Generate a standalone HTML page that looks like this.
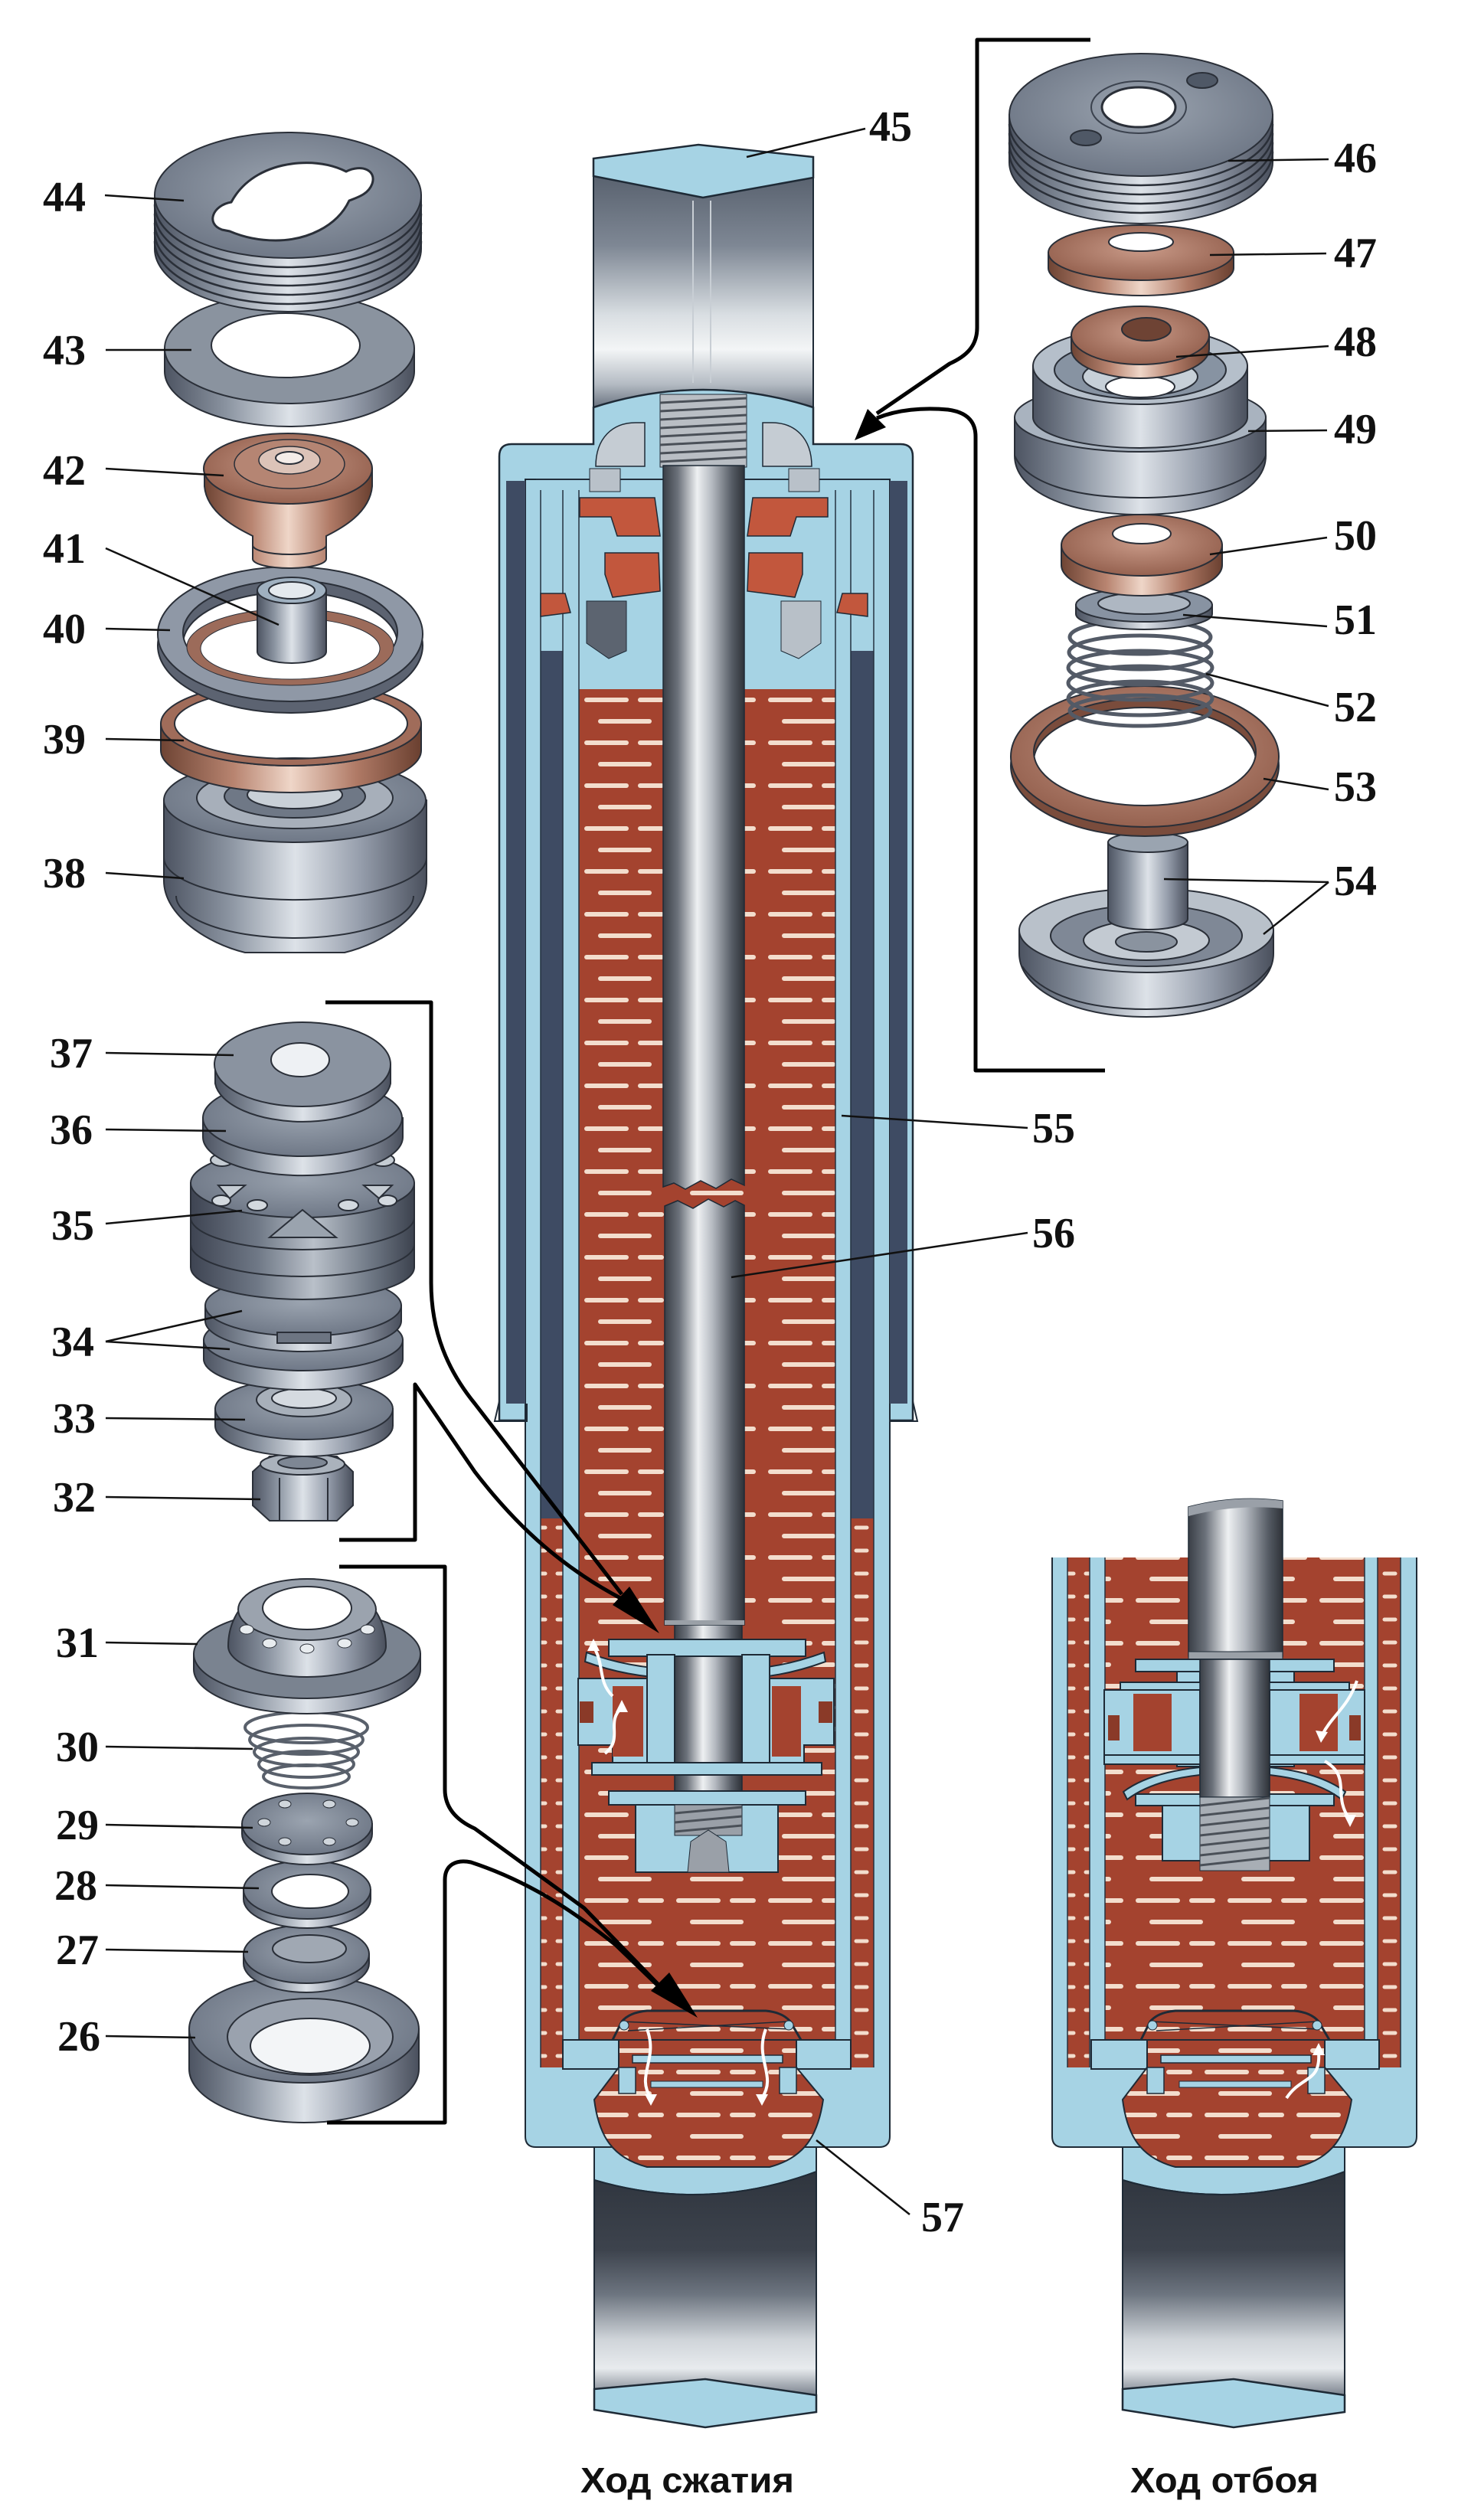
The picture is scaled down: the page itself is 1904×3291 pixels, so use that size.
<!DOCTYPE html>
<html><head><meta charset="utf-8"><style>
html,body{margin:0;padding:0;background:#fff;}
svg{display:block;}
.n{font-family:"Liberation Serif",serif;font-weight:bold;font-size:56px;fill:#111;}
.cap{font-family:"Liberation Sans",sans-serif;font-weight:bold;font-size:46px;fill:#111;}
</style></head><body>
<svg width="1904" height="3291" viewBox="0 0 1904 3291" xmlns="http://www.w3.org/2000/svg">
<defs>
<linearGradient id="rod" x1="0" x2="1" y1="0" y2="0">
<stop offset="0" stop-color="#3a3f47"/><stop offset=".18" stop-color="#6b717a"/><stop offset=".42" stop-color="#eef0f2"/><stop offset=".6" stop-color="#b5bac1"/><stop offset=".85" stop-color="#555b64"/><stop offset="1" stop-color="#2e3238"/>
</linearGradient>
<linearGradient id="eyeT" x1="0" x2="0" y1="0" y2="1">
<stop offset="0" stop-color="#59626f"/><stop offset=".3" stop-color="#7e8794"/><stop offset=".6" stop-color="#d9dee2"/><stop offset=".75" stop-color="#f3f5f6"/><stop offset=".9" stop-color="#b4bbc3"/><stop offset="1" stop-color="#6a7380"/>
</linearGradient>
<linearGradient id="eyeB" x1="0" x2="0" y1="0" y2="1">
<stop offset="0" stop-color="#2f353e"/><stop offset=".35" stop-color="#3d434d"/><stop offset=".55" stop-color="#6d7580"/><stop offset=".75" stop-color="#cfd4d9"/><stop offset=".88" stop-color="#e8ebee"/><stop offset="1" stop-color="#7b838e"/>
</linearGradient>
<linearGradient id="ms" x1="0" x2="1" y1="0" y2="0">
<stop offset="0" stop-color="#4d5462"/><stop offset=".25" stop-color="#8b94a1"/><stop offset=".5" stop-color="#dde2e8"/><stop offset=".75" stop-color="#959dab"/><stop offset="1" stop-color="#4a505d"/>
</linearGradient>
<linearGradient id="ms2" x1="0" x2="1" y1="0" y2="0">
<stop offset="0" stop-color="#3e4452"/><stop offset=".3" stop-color="#6f7886"/><stop offset=".55" stop-color="#b9c0c9"/><stop offset=".8" stop-color="#707986"/><stop offset="1" stop-color="#3c424e"/>
</linearGradient>
<linearGradient id="cs" x1="0" x2="1" y1="0" y2="0">
<stop offset="0" stop-color="#6e4434"/><stop offset=".28" stop-color="#b88470"/><stop offset=".5" stop-color="#efd6c8"/><stop offset=".75" stop-color="#b07a66"/><stop offset="1" stop-color="#6a4030"/>
</linearGradient>
<radialGradient id="tf" cx=".5" cy=".45" r=".6"><stop offset="0" stop-color="#9ba4b0"/><stop offset="1" stop-color="#6b7483"/></radialGradient>
<radialGradient id="ct" cx=".5" cy=".45" r=".6"><stop offset="0" stop-color="#c99a88"/><stop offset="1" stop-color="#915d4b"/></radialGradient>
<pattern id="oil" width="120" height="56" patternUnits="userSpaceOnUse" x="756" y="900">
<rect width="120" height="56" fill="#a4432f"/>
<g stroke="#f3ddcd" stroke-width="6" stroke-linecap="round">
<line x1="10" y1="14" x2="62" y2="14"/><line x1="80" y1="14" x2="108" y2="14"/><line x1="28" y1="42" x2="92" y2="42"/>
</g></pattern>
<pattern id="oil2" width="30" height="30" patternUnits="userSpaceOnUse">
<rect width="30" height="30" fill="#a4432f"/>
<line x1="8" y1="15" x2="22" y2="15" stroke="#f3ddcd" stroke-width="5" stroke-linecap="round"/>
</pattern>
<g id="bot">
<path d="M776,2804 V2847 Q921,2890 1066,2836 V2804 Z" fill="#a6d3e4" stroke="#1e2a36" stroke-width="2"/>
<path d="M776,2847 Q921,2890 1066,2836 V3128 L921,3107 L776,3120 Z" fill="url(#eyeB)" stroke="#1e2a36" stroke-width="2"/>
<path d="M776,3120 L921,3107 L1066,3128 V3150 L921,3170 L776,3147 Z" fill="#a6d3e4" stroke="#1e2a36" stroke-width="2.5"/>
<rect x="735" y="2664" width="73" height="38" fill="#a6d3e4" stroke="#1e2a36" stroke-width="2"/>
<rect x="1040" y="2664" width="71" height="38" fill="#a6d3e4" stroke="#1e2a36" stroke-width="2"/>
<path d="M808,2664 H1040 V2700 L1075,2742 C1068,2790 1050,2818 1005,2830 H845 C800,2818 782,2790 776,2742 L808,2700 Z" fill="url(#oil)" stroke="#1e2a36" stroke-width="2"/>
<path d="M800,2664 L812,2640 Q822,2628 845,2626 H1000 Q1022,2628 1032,2640 L1046,2664" fill="none" stroke="#1e2a36" stroke-width="3"/>
<path d="M812,2640 L1032,2650 M820,2652 L1030,2640" stroke="#1e2a36" stroke-width="1.5"/>
<rect x="826" y="2684" width="196" height="10" fill="#a6d3e4" stroke="#1e2a36" stroke-width="1.5"/>
<rect x="808" y="2700" width="22" height="34" fill="#a6d3e4" stroke="#1e2a36" stroke-width="1.5"/>
<rect x="1018" y="2700" width="22" height="34" fill="#a6d3e4" stroke="#1e2a36" stroke-width="1.5"/>
<rect x="850" y="2718" width="146" height="8" fill="#a6d3e4" stroke="#1e2a36" stroke-width="1"/>
<circle cx="815" cy="2645" r="6" fill="#a6d3e4" stroke="#1e2a36"/>
<circle cx="1030" cy="2645" r="6" fill="#a6d3e4" stroke="#1e2a36"/>
</g>
</defs>
<rect width="1904" height="3291" fill="#fff"/>

<!-- ================= CENTER ================= -->
<path d="M775,230 L918,258 L1062,232 L1062,532 Q918,486 775,532 Z" fill="url(#eyeT)" stroke="#1e2a36" stroke-width="2"/>
<line x1="905" y1="262" x2="905" y2="500" stroke="#c8ced4" stroke-width="2"/>
<line x1="928" y1="262" x2="928" y2="500" stroke="#c8ced4" stroke-width="2"/>
<path d="M775,207 L912,189 L1062,205 L1062,232 L918,258 L775,230 Z" fill="#a6d3e4" stroke="#1e2a36" stroke-width="2.5"/>
<path d="M652,1855 V596 Q652,580 668,580 H775 V532 Q918,486 1062,532 V580 H1176 Q1192,580 1192,596 V1855 Z" fill="#a6d3e4" stroke="#1e2a36" stroke-width="2.5"/>
<path d="M686,626 H1162 V2790 Q1162,2804 1148,2804 H700 Q686,2804 686,2790 Z" fill="#a6d3e4" stroke="#1e2a36" stroke-width="2"/>
<rect x="661" y="628" width="25" height="1205" fill="#3e4b63"/>
<rect x="1162" y="628" width="23" height="1205" fill="#3e4b63"/>
<path d="M652,1830 L646,1856 H688 V1833" fill="none" stroke="#1e2a36" stroke-width="2"/>
<path d="M1192,1830 L1198,1856 H1162" fill="none" stroke="#1e2a36" stroke-width="2"/>
<rect x="706" y="850" width="29" height="1133" fill="#3e4b63"/>
<rect x="1111" y="850" width="30" height="1133" fill="#3e4b63"/>
<rect x="706" y="1983" width="29" height="717" fill="url(#oil2)"/>
<rect x="1111" y="1983" width="30" height="717" fill="url(#oil2)"/>
<rect x="756" y="900" width="335" height="1802" fill="url(#oil)"/>
<g stroke="#24313e" stroke-width="1.5">
<line x1="706" y1="640" x2="706" y2="2700"/><line x1="735" y1="640" x2="735" y2="2700"/>
<line x1="756" y1="640" x2="756" y2="2702"/><line x1="1091" y1="640" x2="1091" y2="2702"/>
<line x1="1111" y1="640" x2="1111" y2="2700"/><line x1="1141" y1="640" x2="1141" y2="2700"/>
<line x1="700" y1="626" x2="1150" y2="626"/>
</g>
<g fill="#c2573d" stroke="#1e2a36" stroke-width="1.5">
<polygon points="757,650 855,650 862,700 806,700 798,675 757,675"/>
<polygon points="790,722 860,722 862,772 800,780 790,750"/>
<polygon points="706,775 738,775 745,800 706,805"/>
<polygon points="1081,650 983,650 976,700 1032,700 1040,675 1081,675"/>
<polygon points="1048,722 978,722 976,772 1038,780 1048,750"/>
<polygon points="1133,775 1100,775 1093,800 1133,805"/>
</g>
<polygon points="766,785 818,785 818,850 795,860 766,840" fill="#5c6470" stroke="#1e2a36"/>
<polygon points="1020,785 1072,785 1072,840 1043,860 1020,850" fill="#b8c0c8" stroke="#1e2a36"/>
<path d="M778,609 C778,572 800,552 830,552 H842 V609 Z" fill="#c5ccd3" stroke="#1e2a36" stroke-width="1.5"/>
<path d="M1060,609 C1060,572 1038,552 1008,552 H996 V609 Z" fill="#c5ccd3" stroke="#1e2a36" stroke-width="1.5"/>
<rect x="770" y="612" width="40" height="30" fill="#b9c1c9" stroke="#1e2a36"/>
<rect x="1030" y="612" width="40" height="30" fill="#b9c1c9" stroke="#1e2a36"/>
<rect x="862" y="515" width="113" height="95" fill="#b9bec4" stroke="#1e2a36"/>
<g stroke="#4a5058" stroke-width="3">
<line x1="862" y1="526" x2="975" y2="520"/><line x1="862" y1="537" x2="975" y2="531"/><line x1="862" y1="548" x2="975" y2="542"/><line x1="862" y1="559" x2="975" y2="553"/><line x1="862" y1="570" x2="975" y2="564"/><line x1="862" y1="581" x2="975" y2="575"/><line x1="862" y1="592" x2="975" y2="586"/><line x1="862" y1="603" x2="975" y2="597"/>
</g>
<path d="M866,608 H972 V1548 L955,1540 L935,1552 L915,1542 L895,1553 L880,1545 L866,1550 Z" fill="url(#rod)" stroke="#1e2a36" stroke-width="1.5"/>
<path d="M868,1575 L885,1568 L905,1578 L925,1566 L945,1576 L960,1568 L972,1574 V2122 H868 Z" fill="url(#rod)" stroke="#1e2a36" stroke-width="1.5"/>
<rect x="881" y="2122" width="88" height="240" fill="url(#rod)" stroke="#1e2a36" stroke-width="1.5"/>
<rect x="868" y="2116" width="104" height="6" fill="#9aa0a7"/>
<g fill="#a6d3e4" stroke="#1e2a36" stroke-width="2">
<rect x="795" y="2141" width="257" height="22"/>
<path d="M766,2158 Q820,2178 881,2180 V2192 Q818,2190 764,2170 Z"/>
<path d="M1076,2158 Q1022,2178 969,2180 V2192 Q1024,2190 1078,2170 Z"/>
<path d="M755,2192 H860 V2304 H800 V2279 H755 Z"/>
<path d="M1089,2192 H985 V2304 H1050 V2279 H1089 Z"/>
<rect x="845" y="2161" width="36" height="143"/>
<rect x="969" y="2161" width="36" height="143"/>
<rect x="773" y="2302" width="300" height="16"/>
<rect x="795" y="2339" width="257" height="18"/>
<rect x="830" y="2357" width="186" height="88"/>
</g>
<rect x="800" y="2202" width="40" height="92" fill="#a4432f"/>
<rect x="1008" y="2202" width="38" height="92" fill="#a4432f"/>
<rect x="757" y="2222" width="18" height="28" fill="#8a3a28"/>
<rect x="1069" y="2222" width="18" height="28" fill="#8a3a28"/>
<rect x="881" y="2357" width="88" height="40" fill="#9aa0a8" stroke="#1e2a36"/>
<g stroke="#4a5058" stroke-width="3"><line x1="881" y1="2368" x2="969" y2="2360"/><line x1="881" y1="2380" x2="969" y2="2372"/><line x1="881" y1="2392" x2="969" y2="2384"/></g>
<polygon points="898,2445 902,2405 925,2390 948,2405 952,2445" fill="#9aa0a8" stroke="#1e2a36"/>
<g fill="none" stroke="#fff" stroke-width="4">
<path d="M790,2290 C815,2270 790,2250 812,2230"/>
<path d="M800,2215 C780,2195 790,2175 775,2150"/>
</g>
<polygon points="812,2220 804,2236 820,2236" fill="#fff"/>
<polygon points="775,2140 767,2156 783,2156" fill="#fff"/>
<use href="#bot"/>
<g fill="none" stroke="#fff" stroke-width="4">
<path d="M845,2650 C860,2690 830,2710 850,2740"/>
<path d="M1000,2650 C985,2690 1015,2710 995,2740"/>
</g>
<polygon points="850,2750 842,2735 858,2735" fill="#fff"/>
<polygon points="995,2750 987,2735 1003,2735" fill="#fff"/>

<!-- ================= RIGHT PANEL ================= -->
<path d="M1374,2034 V2790 Q1374,2804 1388,2804 H1836 Q1850,2804 1850,2790 V2034 Z" fill="#a6d3e4"/>
<path d="M1374,2034 V2790 Q1374,2804 1388,2804 H1836 Q1850,2804 1850,2790 V2034" fill="none" stroke="#1e2a36" stroke-width="2"/>
<rect x="1394" y="2034" width="29" height="666" fill="url(#oil2)"/>
<rect x="1799" y="2034" width="30" height="666" fill="url(#oil2)"/>
<rect x="1443" y="2034" width="339" height="668" fill="url(#oil)"/>
<g stroke="#24313e" stroke-width="1.5">
<line x1="1394" y1="2034" x2="1394" y2="2700"/><line x1="1423" y1="2034" x2="1423" y2="2700"/>
<line x1="1443" y1="2034" x2="1443" y2="2702"/><line x1="1782" y1="2034" x2="1782" y2="2702"/>
<line x1="1799" y1="2034" x2="1799" y2="2700"/><line x1="1829" y1="2034" x2="1829" y2="2700"/>
</g>
<use href="#bot" transform="translate(690,0)"/>
<!-- right piston -->
<path d="M1552,1968 Q1612,1952 1675,1960 V2163 H1552 Z" fill="url(#rod)" stroke="#1e2a36" stroke-width="1.5"/>
<path d="M1552,1968 Q1612,1952 1675,1960 L1675,1970 Q1612,1964 1552,1980 Z" fill="#9aa0a8"/>
<rect x="1552" y="2157" width="123" height="10" fill="#9aa0a7" stroke="#1e2a36" stroke-width="1"/>
<g fill="#a6d3e4" stroke="#1e2a36" stroke-width="2">
<rect x="1483" y="2167" width="259" height="16"/>
<rect x="1537" y="2183" width="30" height="124"/>
<rect x="1658" y="2183" width="32" height="124"/>
<rect x="1463" y="2197" width="299" height="10"/>
<rect x="1442" y="2207" width="125" height="85"/>
<rect x="1658" y="2207" width="124" height="85"/>
<rect x="1442" y="2292" width="340" height="12"/>
<path d="M1467,2340 Q1500,2315 1567,2308 V2318 Q1505,2325 1472,2350 Z"/>
<path d="M1757,2340 Q1724,2315 1658,2308 V2318 Q1720,2325 1752,2350 Z"/>
<rect x="1483" y="2343" width="259" height="15"/>
<rect x="1518" y="2358" width="192" height="72"/>
</g>
<rect x="1480" y="2212" width="50" height="75" fill="#a4432f"/>
<rect x="1697" y="2212" width="50" height="75" fill="#a4432f"/>
<rect x="1447" y="2240" width="15" height="33" fill="#8a3a28"/>
<rect x="1762" y="2240" width="15" height="33" fill="#8a3a28"/>
<rect x="1567" y="2167" width="91" height="180" fill="url(#rod)" stroke="#1e2a36" stroke-width="1.5"/>
<rect x="1567" y="2347" width="91" height="96" fill="#a8aeb5" stroke="#1e2a36"/>
<g stroke="#4a5058" stroke-width="3">
<line x1="1567" y1="2358" x2="1658" y2="2348"/><line x1="1567" y1="2371" x2="1658" y2="2361"/><line x1="1567" y1="2384" x2="1658" y2="2374"/><line x1="1567" y1="2397" x2="1658" y2="2387"/><line x1="1567" y1="2410" x2="1658" y2="2400"/><line x1="1567" y1="2423" x2="1658" y2="2413"/><line x1="1567" y1="2436" x2="1658" y2="2426"/>
</g>
<g fill="none" stroke="#fff" stroke-width="4">
<path d="M1772,2195 C1760,2230 1740,2240 1727,2265"/>
<path d="M1730,2300 C1765,2320 1740,2345 1762,2375"/>
<path d="M1680,2740 C1700,2710 1725,2720 1722,2680"/>
</g>
<polygon points="1725,2276 1718,2260 1734,2262" fill="#fff"/>
<polygon points="1763,2386 1755,2370 1771,2370" fill="#fff"/>
<polygon points="1722,2668 1714,2684 1730,2684" fill="#fff"/>

<!-- ================= LEFT TOP GROUP ================= -->
<g stroke="#2a2f38" stroke-width="2">
<path d="M214,1045 V1150 C214,1195 270,1232 320,1244 H450 C500,1232 557,1195 557,1150 V1045 Z" fill="url(#ms)"/>
<path d="M214,1120 A171,55 0 0 0 557,1120" fill="none"/>
<path d="M230,1170 A155,55 0 0 0 540,1170" fill="none"/>
<ellipse cx="385" cy="1045" rx="171" ry="55" fill="url(#tf)"/>
<ellipse cx="385" cy="1042" rx="128" ry="40" fill="#a7afba"/>
<ellipse cx="385" cy="1040" rx="92" ry="28" fill="#6f7886"/>
<ellipse cx="385" cy="1038" rx="62" ry="18" fill="#c9d0d7"/>
<path d="M210,945 V980 A170,55 0 0 0 550,980 V945 A170,55 0 0 1 210,945 Z" fill="url(#cs)"/>
<path fill-rule="evenodd" d="M210,945 A170,55 0 1 0 550,945 A170,55 0 1 0 210,945 Z M228,945 A152,46 0 1 0 532,945 A152,46 0 1 0 228,945 Z" fill="#a06c5a"/>
<path fill-rule="evenodd" d="M206,843 A173,88 0 1 0 552,843 A173,88 0 1 0 206,843 Z M239,841 A140,68 0 1 0 519,841 A140,68 0 1 0 239,841 Z" fill="#5c6371"/>
<path fill-rule="evenodd" d="M206,828 A173,88 0 1 0 552,828 A173,88 0 1 0 206,828 Z M239,826 A140,68 0 1 0 519,826 A140,68 0 1 0 239,826 Z" fill="#8f98a6"/>
<path fill-rule="evenodd" d="M244,845 A135,50 0 1 0 514,845 A135,50 0 1 0 244,845 Z M262,847 A117,40 0 1 0 496,847 A117,40 0 1 0 262,847 Z" fill="#9c6b5a" stroke-width="1"/>
<path d="M336,771 V851 A45,15 0 0 0 426,851 V771 Z" fill="url(#ms)"/>
<ellipse cx="381" cy="771" rx="45" ry="17" fill="#9fb0c0"/>
<ellipse cx="381" cy="771" rx="30" ry="11" fill="#e4e9ee"/>
<path d="M267,612 V635 C270,670 310,690 330,700 V730 A48,12 0 0 0 426,730 V700 C446,690 483,670 486,635 V612 Z" fill="url(#cs)"/>
<path d="M330,712 A48,12 0 0 0 426,712" fill="none"/>
<ellipse cx="376" cy="612" rx="110" ry="46" fill="url(#ct)"/>
<ellipse cx="378" cy="606" rx="72" ry="32" fill="#b58573" stroke-width="1.5"/>
<ellipse cx="378" cy="601" rx="40" ry="18" fill="#dcc3b8" stroke-width="1.5"/>
<ellipse cx="378" cy="598" rx="18" ry="8" fill="#f4ece8"/>
<path d="M215,455 V485 A163,72 0 0 0 541,485 V455 Z" fill="url(#ms)"/>
<ellipse cx="378" cy="455" rx="163" ry="72" fill="#8a939f"/>
<ellipse cx="373" cy="451" rx="97" ry="42" fill="#fff"/>
<path d="M202,255 V325 A174,82 0 0 0 550,325 V255 Z" fill="url(#ms)"/>
<g fill="none" stroke-width="2.5">
<path d="M202,267 A174,82 0 0 0 550,267"/><path d="M202,279 A174,82 0 0 0 550,279"/><path d="M202,291 A174,82 0 0 0 550,291"/><path d="M202,303 A174,82 0 0 0 550,303"/><path d="M202,315 A174,82 0 0 0 550,315"/>
</g>
<ellipse cx="376" cy="255" rx="174" ry="82" fill="url(#tf)"/>
<path d="M290,300 C268,292 278,268 302,264 C318,234 350,216 390,213 C420,211 440,218 452,224 C472,214 492,222 486,240 C481,254 466,258 456,262 C440,296 400,314 360,314 C335,314 314,308 300,302 Z" fill="#fff" stroke-width="3"/>
</g>

<!-- ================= LEFT MIDDLE GROUP ================= -->
<g stroke="#2a2f38" stroke-width="2">
<polygon points="330,1922 352,1902 440,1902 461,1922 461,1966 440,1986 352,1986 330,1966" fill="url(#ms)"/>
<line x1="365" y1="1930" x2="365" y2="1986"/><line x1="428" y1="1930" x2="428" y2="1986"/>
<ellipse cx="395" cy="1912" rx="55" ry="14" fill="#aab2bc"/>
<ellipse cx="395" cy="1910" rx="32" ry="8" fill="#7e8794"/>
<path d="M281,1840 V1862 A116,40 0 0 0 513,1862 V1840 Z" fill="url(#ms)"/>
<ellipse cx="397" cy="1840" rx="116" ry="40" fill="url(#tf)"/>
<ellipse cx="397" cy="1828" rx="62" ry="22" fill="#a8b0ba"/>
<ellipse cx="397" cy="1826" rx="42" ry="13" fill="#d5dae0"/>
<path d="M266,1750 V1775 A130,40 0 0 0 526,1775 V1750 Z" fill="url(#ms)"/>
<ellipse cx="396" cy="1750" rx="130" ry="40" fill="url(#tf)"/>
<path d="M268,1705 V1725 A128,40 0 0 0 524,1725 V1705 Z" fill="url(#ms)"/>
<ellipse cx="396" cy="1705" rx="128" ry="40" fill="url(#tf)"/>
<rect x="362" y="1740" width="70" height="14" fill="#6d7582"/>
<path d="M249,1545 V1655 A146,42 0 0 0 541,1655 V1545 Z" fill="url(#ms2)"/>
<path d="M249,1590 A146,42 0 0 0 541,1590" fill="none"/>
<path d="M249,1625 A146,42 0 0 0 541,1625" fill="none"/>
<ellipse cx="395" cy="1545" rx="146" ry="45" fill="url(#tf)"/>
<ellipse cx="289" cy="1568" rx="12" ry="7" fill="#d3d9df"/>
<ellipse cx="336" cy="1574" rx="13" ry="7" fill="#d3d9df"/>
<ellipse cx="455" cy="1574" rx="13" ry="7" fill="#d3d9df"/>
<ellipse cx="506" cy="1568" rx="12" ry="7" fill="#d3d9df"/>
<ellipse cx="290" cy="1515" rx="15" ry="8" fill="#c5ccd3"/>
<ellipse cx="500" cy="1515" rx="15" ry="8" fill="#c5ccd3"/>
<polygon points="352,1616 395,1580 439,1616" fill="#9aa3ae"/>
<polygon points="285,1548 320,1548 300,1565" fill="#c5ccd3"/>
<polygon points="475,1548 512,1548 495,1565" fill="#c5ccd3"/>
<path d="M265,1460 V1485 A130,50 0 0 0 526,1485 V1460 Z" fill="url(#ms)"/>
<ellipse cx="395" cy="1460" rx="130" ry="50" fill="url(#tf)"/>
<path d="M281,1390 V1415 A115,55 0 0 0 510,1415 V1390 Z" fill="url(#ms)"/>
<ellipse cx="395" cy="1390" rx="115" ry="55" fill="#8a93a0"/>
<ellipse cx="392" cy="1384" rx="38" ry="22" fill="#eef1f4"/>
</g>

<!-- ================= LEFT BOTTOM GROUP ================= -->
<g stroke="#2a2f38" stroke-width="2">
<path d="M247,2650 V2702 A150,70 0 0 0 547,2702 V2650 Z" fill="url(#ms)"/>
<ellipse cx="397" cy="2650" rx="150" ry="70" fill="url(#tf)"/>
<ellipse cx="405" cy="2660" rx="108" ry="50" fill="#9aa2ae"/>
<ellipse cx="405" cy="2672" rx="78" ry="36" fill="#f3f5f7"/>
<path d="M318,2552 V2564 A82,38 0 0 0 482,2564 V2552 Z" fill="url(#ms)"/>
<ellipse cx="400" cy="2552" rx="82" ry="38" fill="url(#tf)"/>
<ellipse cx="404" cy="2545" rx="48" ry="18" fill="#a0a8b3"/>
<path d="M318,2468 V2480 A83,38 0 0 0 484,2480 V2468 Z" fill="url(#ms)"/>
<ellipse cx="401" cy="2468" rx="83" ry="38" fill="url(#tf)"/>
<ellipse cx="405" cy="2470" rx="50" ry="22" fill="#fff"/>
<path d="M316,2382 V2395 A85,40 0 0 0 486,2395 V2382 Z" fill="url(#ms)"/>
<ellipse cx="401" cy="2382" rx="85" ry="40" fill="url(#tf)"/>
<g fill="#d0d6dc" stroke-width="1">
<ellipse cx="345" cy="2380" rx="8" ry="5"/><ellipse cx="372" cy="2356" rx="8" ry="5"/><ellipse cx="430" cy="2356" rx="8" ry="5"/><ellipse cx="460" cy="2380" rx="8" ry="5"/><ellipse cx="372" cy="2405" rx="8" ry="5"/><ellipse cx="430" cy="2405" rx="8" ry="5"/>
</g>
<g fill="none" stroke="#59606b" stroke-width="4">
<ellipse cx="400" cy="2256" rx="80" ry="20"/><ellipse cx="400" cy="2272" rx="74" ry="19"/><ellipse cx="400" cy="2288" rx="68" ry="18"/><ellipse cx="400" cy="2304" rx="62" ry="17"/><ellipse cx="400" cy="2320" rx="56" ry="15"/>
</g>
<path d="M253,2160 V2180 A148,58 0 0 0 549,2180 V2160 Z" fill="url(#ms)"/>
<ellipse cx="401" cy="2160" rx="148" ry="58" fill="#7a8390"/>
<path d="M298,2150 C298,2095 345,2062 401,2062 C457,2062 504,2095 504,2150 A103,40 0 0 1 298,2150 Z" fill="url(#ms)"/>
<ellipse cx="401" cy="2102" rx="90" ry="40" fill="#9ba3ae"/>
<ellipse cx="401" cy="2100" rx="58" ry="28" fill="#fff"/>
<g fill="#e8ecef" stroke-width="1">
<ellipse cx="322" cy="2128" rx="9" ry="6"/><ellipse cx="352" cy="2146" rx="9" ry="6"/><ellipse cx="401" cy="2153" rx="9" ry="6"/><ellipse cx="450" cy="2146" rx="9" ry="6"/><ellipse cx="480" cy="2128" rx="9" ry="6"/>
</g>
</g>

<!-- ================= RIGHT TOP GROUP ================= -->
<g stroke="#2a2f38" stroke-width="2">
<!-- 54 -->
<path d="M1331,1215 V1245 C1331,1292 1400,1328 1497,1328 C1594,1328 1663,1292 1663,1245 V1215 Z" fill="url(#ms)"/>
<path d="M1335,1262 C1360,1300 1420,1318 1497,1318 C1574,1318 1634,1300 1659,1262" fill="none"/>
<ellipse cx="1497" cy="1215" rx="166" ry="55" fill="#b9c1ca"/>
<ellipse cx="1497" cy="1222" rx="125" ry="40" fill="#7f8896"/>
<ellipse cx="1497" cy="1228" rx="82" ry="26" fill="#c3cad2"/>
<ellipse cx="1497" cy="1230" rx="40" ry="13" fill="#8a939f"/>
<path d="M1447,1100 V1200 A52,14 0 0 0 1551,1200 V1100 Z" fill="url(#ms)"/>
<ellipse cx="1499" cy="1100" rx="52" ry="13" fill="#9aa4b0"/>
<!-- 53 -->
<path fill-rule="evenodd" d="M1320,1000 A175,92 0 1 0 1670,1000 A175,92 0 1 0 1320,1000 Z M1350,994 A145,70 0 1 0 1640,994 A145,70 0 1 0 1350,994 Z" fill="#7a4c3c"/>
<path fill-rule="evenodd" d="M1320,988 A175,92 0 1 0 1670,988 A175,92 0 1 0 1320,988 Z M1350,982 A145,70 0 1 0 1640,982 A145,70 0 1 0 1350,982 Z" fill="url(#ct)"/>
<!-- 52 -->
<g fill="none" stroke="#535a66" stroke-width="5">
<ellipse cx="1489" cy="832" rx="92" ry="22"/><ellipse cx="1489" cy="852" rx="93" ry="22"/><ellipse cx="1489" cy="872" rx="94" ry="22"/><ellipse cx="1489" cy="892" rx="94" ry="22"/><ellipse cx="1489" cy="912" rx="94" ry="22"/><ellipse cx="1489" cy="928" rx="92" ry="20"/>
</g>
<!-- 51 -->
<path d="M1405,790 V802 A89,20 0 0 0 1583,802 V790 Z" fill="url(#ms)"/>
<ellipse cx="1494" cy="790" rx="89" ry="22" fill="#8893a2"/>
<ellipse cx="1494" cy="788" rx="60" ry="14" fill="#aeb7c2"/>
<!-- 50 -->
<path d="M1386,712 V738 A105,40 0 0 0 1596,738 V712 Z" fill="url(#cs)"/>
<ellipse cx="1491" cy="712" rx="105" ry="40" fill="url(#ct)"/>
<ellipse cx="1491" cy="697" rx="38" ry="13" fill="#fff"/>
<!-- 49 -->
<path d="M1325,545 V595 C1325,640 1390,672 1489,672 C1588,672 1653,640 1653,595 V545 Z" fill="url(#ms)"/>
<path d="M1325,595 C1340,630 1400,650 1489,650 C1578,650 1638,630 1653,595" fill="none"/>
<ellipse cx="1489" cy="545" rx="164" ry="45" fill="#a9b3bf"/>
<path d="M1349,478 V545 A140,40 0 0 0 1629,545 V478 Z" fill="url(#ms)"/>
<ellipse cx="1489" cy="478" rx="140" ry="50" fill="#b5bfca"/>
<ellipse cx="1489" cy="483" rx="112" ry="38" fill="#8793a2"/>
<ellipse cx="1489" cy="492" rx="75" ry="25" fill="#c7d0d8"/>
<ellipse cx="1489" cy="505" rx="45" ry="14" fill="#fff"/>
<!-- 48 -->
<path d="M1399,438 V456 A90,38 0 0 0 1579,456 V438 Z" fill="url(#cs)"/>
<ellipse cx="1489" cy="438" rx="90" ry="38" fill="url(#ct)"/>
<ellipse cx="1497" cy="430" rx="32" ry="15" fill="#6e4334"/>
<!-- 47 -->
<path d="M1369,330 V350 A121,36 0 0 0 1611,350 V330 Z" fill="url(#cs)"/>
<ellipse cx="1490" cy="330" rx="121" ry="36" fill="url(#ct)"/>
<ellipse cx="1490" cy="316" rx="42" ry="12" fill="#fff"/>
<!-- 46 -->
<path d="M1318,150 V212 A172,80 0 0 0 1662,212 V150 Z" fill="url(#ms)"/>
<g fill="none" stroke-width="2.5">
<path d="M1318,162 A172,80 0 0 0 1662,162"/><path d="M1318,174 A172,80 0 0 0 1662,174"/><path d="M1318,186 A172,80 0 0 0 1662,186"/><path d="M1318,198 A172,80 0 0 0 1662,198"/>
</g>
<ellipse cx="1490" cy="150" rx="172" ry="80" fill="url(#tf)"/>
<ellipse cx="1487" cy="140" rx="62" ry="34" fill="none" stroke="#3b424e"/>
<ellipse cx="1487" cy="140" rx="48" ry="26" fill="#fff" stroke-width="3"/>
<ellipse cx="1418" cy="180" rx="20" ry="10" fill="#4f5866"/>
<ellipse cx="1570" cy="105" rx="20" ry="10" fill="#4f5866"/>
</g>

<!-- ================= BRACKETS & ARROWS ================= -->
<g fill="none" stroke="#000" stroke-width="5" stroke-linejoin="round">
<path d="M1424,52 H1276 V428 C1276,452 1262,465 1240,475 L1145,540"/>
<path d="M1443,1398 H1274 V570 C1274,548 1260,538 1238,535 C1205,532 1172,535 1145,546"/>
<path d="M425,1309 H563 V1675 C563,1740 585,1790 620,1833 L812,2082"/>
<path d="M443,2011 H542 V1808 L620,1922 C680,2000 740,2050 812,2088"/>
<path d="M443,2046 H581 V2337 C581,2362 598,2378 620,2388 L763,2492 L860,2592"/>
<path d="M427,2772 H581 V2455 C581,2435 596,2428 615,2432 C700,2460 760,2505 804,2540 L860,2594"/>
</g>
<polygon points="1116,575 1157,558 1133,534" fill="#000"/>
<polygon points="861,2133 800,2096 822,2072" fill="#000"/>
<polygon points="911,2635 850,2600 874,2576" fill="#000"/>

<!-- ================= LEADER LINES ================= -->
<g stroke="#111" stroke-width="2.5" fill="none">
<line x1="137" y1="255" x2="240" y2="262"/>
<line x1="138" y1="457" x2="250" y2="457"/>
<line x1="138" y1="612" x2="292" y2="621"/>
<line x1="138" y1="716" x2="364" y2="816"/>
<line x1="138" y1="821" x2="222" y2="823"/>
<line x1="138" y1="965" x2="240" y2="967"/>
<line x1="138" y1="1140" x2="240" y2="1147"/>
<line x1="138" y1="1375" x2="305" y2="1378"/>
<line x1="138" y1="1475" x2="295" y2="1477"/>
<line x1="138" y1="1598" x2="316" y2="1581"/>
<line x1="138" y1="1752" x2="316" y2="1712"/>
<line x1="138" y1="1752" x2="300" y2="1762"/>
<line x1="138" y1="1852" x2="320" y2="1854"/>
<line x1="138" y1="1955" x2="340" y2="1958"/>
<line x1="138" y1="2145" x2="258" y2="2147"/>
<line x1="138" y1="2281" x2="330" y2="2284"/>
<line x1="138" y1="2383" x2="330" y2="2387"/>
<line x1="138" y1="2462" x2="338" y2="2466"/>
<line x1="138" y1="2546" x2="324" y2="2549"/>
<line x1="138" y1="2659" x2="255" y2="2661"/>
<line x1="1604" y1="210" x2="1735" y2="208"/>
<line x1="1580" y1="333" x2="1732" y2="331"/>
<line x1="1536" y1="466" x2="1735" y2="452"/>
<line x1="1630" y1="563" x2="1733" y2="562"/>
<line x1="1580" y1="724" x2="1733" y2="702"/>
<line x1="1545" y1="803" x2="1733" y2="818"/>
<line x1="1575" y1="880" x2="1735" y2="922"/>
<line x1="1650" y1="1017" x2="1735" y2="1031"/>
<line x1="1520" y1="1148" x2="1735" y2="1152"/>
<line x1="1650" y1="1220" x2="1735" y2="1152"/>
<line x1="975" y1="205" x2="1130" y2="168"/>
<line x1="1099" y1="1457" x2="1342" y2="1473"/>
<line x1="955" y1="1668" x2="1342" y2="1610"/>
<line x1="1066" y1="2795" x2="1188" y2="2892"/>
</g>

<!-- ================= LABELS ================= -->
<text x="56" y="276" class="n">44</text>
<text x="56" y="476" class="n">43</text>
<text x="56" y="633" class="n">42</text>
<text x="56" y="735" class="n">41</text>
<text x="56" y="840" class="n">40</text>
<text x="56" y="984" class="n">39</text>
<text x="56" y="1159" class="n">38</text>
<text x="65" y="1394" class="n">37</text>
<text x="65" y="1494" class="n">36</text>
<text x="67" y="1619" class="n">35</text>
<text x="67" y="1771" class="n">34</text>
<text x="69" y="1871" class="n">33</text>
<text x="69" y="1974" class="n">32</text>
<text x="73" y="2164" class="n">31</text>
<text x="73" y="2300" class="n">30</text>
<text x="73" y="2402" class="n">29</text>
<text x="71" y="2481" class="n">28</text>
<text x="73" y="2565" class="n">27</text>
<text x="75" y="2678" class="n">26</text>
<text x="1742" y="225" class="n">46</text>
<text x="1742" y="349" class="n">47</text>
<text x="1742" y="465" class="n">48</text>
<text x="1742" y="579" class="n">49</text>
<text x="1742" y="718" class="n">50</text>
<text x="1742" y="828" class="n">51</text>
<text x="1742" y="942" class="n">52</text>
<text x="1742" y="1046" class="n">53</text>
<text x="1742" y="1169" class="n">54</text>
<text x="1135" y="184" class="n">45</text>
<text x="1348" y="1492" class="n">55</text>
<text x="1348" y="1629" class="n">56</text>
<text x="1203" y="2914" class="n">57</text>
<text x="758" y="3255" class="cap" textLength="279" lengthAdjust="spacingAndGlyphs">Ход сжатия</text>
<text x="1476" y="3255" class="cap" textLength="246" lengthAdjust="spacingAndGlyphs">Ход отбоя</text>
</svg>
</body></html>
